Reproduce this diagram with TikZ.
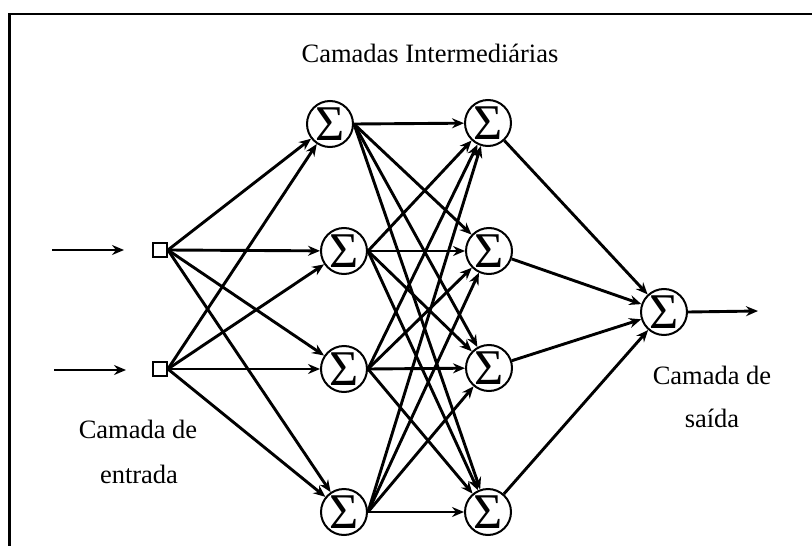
\documentclass[tikz,border=0pt]{standalone}
\usepackage{fontspec}
\setmainfont{Liberation Serif}
\usetikzlibrary{arrows.meta}
\begin{document}
\begin{tikzpicture}[x=1pt,y=-1pt,
 neuron/.style={circle,draw,line width=2pt,minimum size=46pt,inner sep=0pt,
   label={[inner sep=0pt,font=\fontsize{50}{50}\selectfont]center:Σ}},
 inbox/.style={rectangle,draw,line width=1.8pt,minimum size=14pt,inner sep=0pt},
 link/.style={line width=2.9pt,-{Stealth[length=12pt,width=10pt,inset=4pt]}},
 lbl/.style={font=\fontsize{26.5}{30}\selectfont,anchor=base,inner sep=0pt}]
\useasboundingbox (0,0) rectangle (812,546);
\draw[line width=2.4pt] (9.5,546) -- (9.5,14) -- (812,14);
% input squares
\node[inbox] (i1) at (160,250) {};
\node[inbox] (i2) at (160,369) {};
% hidden layer 1
\node[neuron] (h1) at (330,124) {};
\node[neuron] (h2) at (344,251) {};
\node[neuron] (h3) at (344,369) {};
\node[neuron] (h4) at (344,512) {};
% hidden layer 2
\node[neuron] (g1) at (488,123) {};
\node[neuron] (g2) at (489,251) {};
\node[neuron] (g3) at (489,368) {};
\node[neuron] (g4) at (488,512) {};
% output
\node[neuron] (o) at (664,312) {};
% free ends
\coordinate (a1s) at (52,250);
\coordinate (a1e) at (124,250);
\coordinate (a2s) at (54,370);
\coordinate (a2e) at (126,370);
\coordinate (oe) at (758,311);
% connections
\draw[link] (a1s) -- (a1e);
\draw[link] (a2s) -- (a2e);
\foreach \i in {i1,i2}{
  \foreach \h in {h1,h2,h3,h4}{
    \draw[link] (\i.east) -- (\h);
  }
}
\foreach \h in {h1,h2,h3,h4}{
  \foreach \g in {g1,g2,g3,g4}{
    \draw[link] (\h.east) -- (\g);
  }
}
\foreach \g in {g1,g2,g3,g4}{
  \draw[link] (\g) -- (o);
}
\draw[link] (o.east) -- (oe);
% labels
\node[lbl] (t1) at (430,62) {Camadas Intermediárias};
\node[lbl] (t2) at (138,438) {Camada de};
\node[lbl] (t3) at (139,483) {entrada};
\node[lbl] (t4) at (712,384) {Camada de};
\node[lbl] (t5) at (712,427) {saída};
\end{tikzpicture}
\end{document}
